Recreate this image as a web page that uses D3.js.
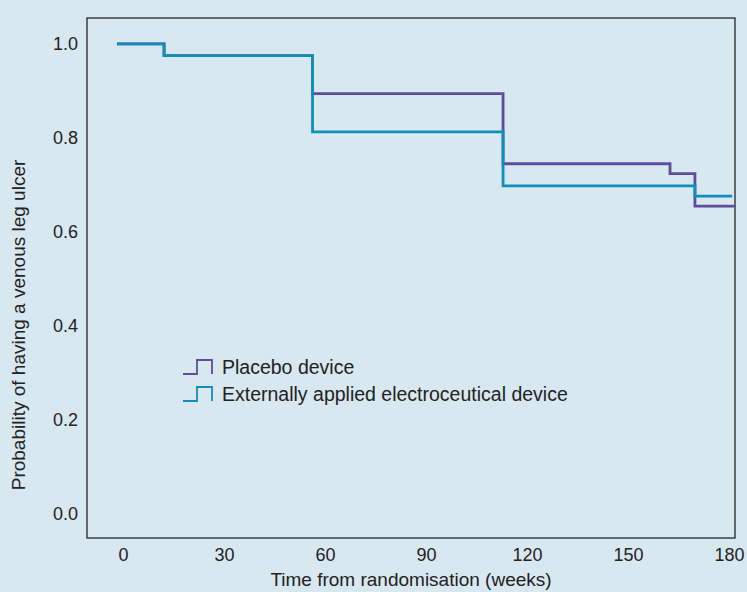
<!DOCTYPE html>
<html>
<head>
<meta charset="utf-8">
<script src="https://cdn.jsdelivr.net/npm/d3@7"></script>
<style>
html,body{margin:0;padding:0;background:#d8e8f1;}
svg{display:block;font-family:"Liberation Sans",Arial,Helvetica,sans-serif;}
</style>
</head>
<body>
<script>
// Kaplan-Meier step data (weeks, probability)
const placeboTimes = [-1.8, 12.2, 56.3, 112.9, 162.5, 169.9, 181.8];
const placeboProb  = [1.0, 0.975, 0.894, 0.745, 0.724, 0.655, 0.655];
const deviceTimes  = [-1.8, 12.2, 56.3, 112.9, 169.9, 181.0];
const deviceProb   = [1.0, 0.975, 0.813, 0.698, 0.676, 0.676];
const xTicks = [0, 30, 60, 90, 120, 150, 180];
const yTicks = [0.0, 0.2, 0.4, 0.6, 0.8, 1.0];
const seriesNames = ["Placebo device", "Externally applied electroceutical device"];
const seriesColors = ["#5e4c9c", "#0f8fba"];

const W = 747, H = 592;
const svg = d3.select("body").append("svg").attr("width", W).attr("height", H);
svg.append("rect").attr("width", W).attr("height", H).attr("fill", "#d8e8f1");

const x = d3.scaleLinear().domain([-10.7, 181.8]).range([87, 735]);
const y = d3.scaleLinear().domain([-0.051, 1.055]).range([538, 18]);

// frame
svg.append("rect")
  .attr("x", x.range()[0]).attr("y", y.range()[1])
  .attr("width", x.range()[1] - x.range()[0])
  .attr("height", y.range()[0] - y.range()[1])
  .attr("fill", "none").attr("stroke", "#333").attr("stroke-width", 1.4);

const FS = 19, TFS = 18;
// axes (labels only)
const xAxis = svg.append("g").attr("transform", `translate(0,${y.range()[0]})`)
  .call(d3.axisBottom(x).tickValues(xTicks).tickSize(0).tickPadding(10).tickFormat(d3.format("d")));
xAxis.select(".domain").remove();
xAxis.selectAll("text").attr("font-size", TFS).attr("fill", "#222").attr("font-family", "Liberation Sans, Arial, sans-serif");

const yAxis = svg.append("g").attr("transform", `translate(${x.range()[0]},0)`)
  .call(d3.axisLeft(y).tickValues(yTicks).tickSize(0).tickPadding(9).tickFormat(d3.format(".1f")));
yAxis.select(".domain").remove();
yAxis.selectAll("text").attr("font-size", TFS).attr("fill", "#222").attr("font-family", "Liberation Sans, Arial, sans-serif");

// axis titles
svg.append("text").attr("x", 411).attr("y", 586)
  .attr("text-anchor", "middle").attr("font-size", FS).attr("fill", "#222")
  .text("Time from randomisation (weeks)");
svg.append("text").attr("transform", `translate(25,${325}) rotate(-90)`)
  .attr("text-anchor", "middle").attr("font-size", FS).attr("fill", "#222")
  .text("Probability of having a venous leg ulcer");

// curves
const line = d3.line().x(d => x(d[0])).y(d => y(d[1])).curve(d3.curveStepAfter);
const placebo = placeboTimes.map((t, i) => [t, placeboProb[i]]);
const device = deviceTimes.map((t, i) => [t, deviceProb[i]]);
svg.append("path").datum(placebo).attr("d", line)
  .attr("fill", "none").attr("stroke", seriesColors[0]).attr("stroke-width", 2.8);
svg.append("path").datum(device).attr("d", line)
  .attr("fill", "none").attr("stroke", seriesColors[1]).attr("stroke-width", 2.8);

// legend
const legY = [367, 394];
seriesNames.forEach((name, i) => {
  const cy = legY[i];
  svg.append("path")
    .attr("d", `M183,${cy + 7} H197 V${cy - 7} H212 V${cy + 7}`)
    .attr("fill", "none").attr("stroke", seriesColors[i]).attr("stroke-width", 1.8);
  svg.append("text").attr("x", 222).attr("y", cy + 6.5)
    .attr("font-size", 19.5).attr("fill", "#222").text(name);
});
</script>
</body>
</html>
